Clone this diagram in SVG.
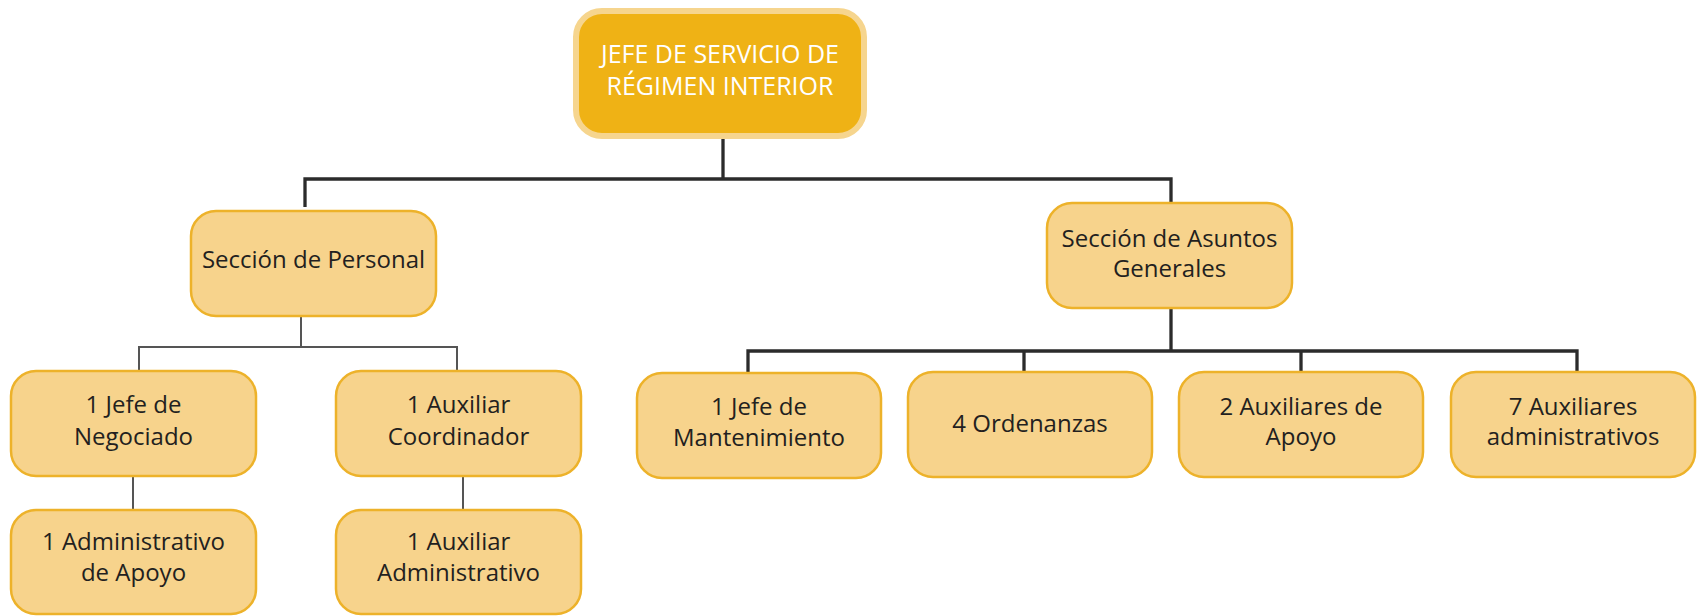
<svg xmlns="http://www.w3.org/2000/svg" width="1702" height="616" viewBox="0 0 1702 616">
<style>
.box{fill:#F7D38C;stroke:#EDB22A;stroke-width:2.5}
.top{fill:#EFB215;stroke:#F6D58E;stroke-width:6}
.t{font-family:"Open Sans","DejaVu Sans",sans-serif;font-size:24px;fill:#231F20;text-anchor:middle}
.tw{font-family:"Open Sans","DejaVu Sans",sans-serif;font-size:25px;fill:#FFFFFF;text-anchor:middle}
.c{fill:none;stroke:#2B2B2B;stroke-width:3.3;stroke-linejoin:miter}
.c2{fill:none;stroke:#555555;stroke-width:2}
</style>
<rect width="1702" height="616" fill="#FFFFFF"/>
<g id="connectors">
<path class="c" d="M723 136 V179 M305 207 V179 H1171 V202"/>
<path class="c" d="M1171 309 V351 M748 372 V351 H1577 V372 M1024 351 V372 M1301 351 V372"/>
<path class="c2" d="M301 316 V347 M139 370 V347 H457 V370"/>
<path class="c2" d="M133 477 V510 M463 477 V510"/>
</g>
<g id="n_jefe">
<rect class="top" x="576" y="11" width="288" height="125" rx="26"/>
<text class="tw" x="720" y="63">JEFE DE SERVICIO DE</text>
<text class="tw" x="720" y="95">RÉGIMEN INTERIOR</text>
</g>
<g id="n_personal">
<rect class="box" x="191" y="211" width="245" height="105" rx="25"/>
<text class="t" x="313.5" y="268">Sección de Personal</text>
</g>
<g id="n_asuntos">
<rect class="box" x="1047" y="203" width="245" height="105" rx="25"/>
<text class="t" x="1169.5" y="247">Sección de Asuntos</text>
<text class="t" x="1169.5" y="277">Generales</text>
</g>
<g id="n_negociado">
<rect class="box" x="11" y="371" width="245" height="105" rx="25"/>
<text class="t" x="133.5" y="413">1 Jefe de</text>
<text class="t" x="133.5" y="445">Negociado</text>
</g>
<g id="n_coordinador">
<rect class="box" x="336" y="371" width="245" height="105" rx="25"/>
<text class="t" x="458.5" y="413">1 Auxiliar</text>
<text class="t" x="458.5" y="445">Coordinador</text>
</g>
<g id="n_admin_apoyo">
<rect class="box" x="11" y="510" width="245" height="104" rx="25"/>
<text class="t" x="133.5" y="550">1 Administrativo</text>
<text class="t" x="133.5" y="581">de Apoyo</text>
</g>
<g id="n_aux_admin">
<rect class="box" x="336" y="510" width="245" height="104" rx="25"/>
<text class="t" x="458.5" y="550">1 Auxiliar</text>
<text class="t" x="458.5" y="581">Administrativo</text>
</g>
<g id="n_mantenimiento">
<rect class="box" x="637" y="373" width="244" height="105" rx="25"/>
<text class="t" x="759" y="415">1 Jefe de</text>
<text class="t" x="759" y="446">Mantenimiento</text>
</g>
<g id="n_ordenanzas">
<rect class="box" x="908" y="372" width="244" height="105" rx="25"/>
<text class="t" x="1030" y="432">4 Ordenanzas</text>
</g>
<g id="n_aux_apoyo">
<rect class="box" x="1179" y="372" width="244" height="105" rx="25"/>
<text class="t" x="1301" y="415">2 Auxiliares de</text>
<text class="t" x="1301" y="445">Apoyo</text>
</g>
<g id="n_aux_admins">
<rect class="box" x="1451" y="372" width="244" height="105" rx="25"/>
<text class="t" x="1573" y="415">7 Auxiliares</text>
<text class="t" x="1573" y="445">administrativos</text>
</g>
</svg>
